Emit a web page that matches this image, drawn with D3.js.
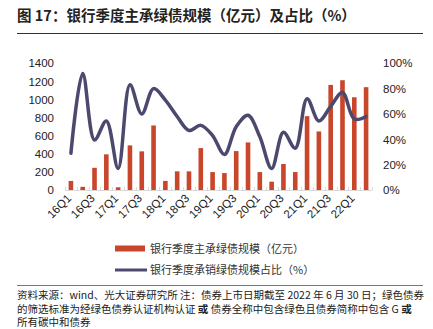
<!DOCTYPE html>
<html>
<head>
<meta charset="utf-8">
<script src="https://cdn.jsdelivr.net/npm/d3@7"></script>
<style>
  body { margin: 0; background: #fff; }
  svg { display: block; font-family: "Liberation Sans", Arial, "Noto Sans CJK SC", sans-serif; }
  .cjk { font-family: "Noto Sans CJK SC", sans-serif; }
</style>
</head>
<body>
<svg id="chart" width="433" height="329"></svg>
<script>
// Bank green bond underwriting by quarter

var quarters = ["16Q1","16Q2","16Q3","16Q4","17Q1","17Q2","17Q3","17Q4","18Q1","18Q2","18Q3","18Q4",
	"19Q1","19Q2","19Q3","19Q4","20Q1","20Q2","20Q3","20Q4","21Q1","21Q2","21Q3","21Q4","22Q1","22Q2"];
var scaleValues = [100, 35, 245, 394, 30, 493, 427, 713, 100, 206, 206, 463,
	198, 187, 430, 526, 198, 92, 287, 198, 816, 647, 1161, 1213, 1025, 1136];
var shareValues = [29, 92, 39.5, 54.5, 17, 83, 60, 80, 71, 58, 47, 51,
	43, 28, 50, 59, 42, 17, 45.5, 33, 72, 54.5, 66, 77, 56, 58];
var leftTicks = [0, 200, 400, 600, 800, 1000, 1200, 1400];
var rightTicks = [0, 20, 40, 60, 80, 100];

var barColor = "#c9462b";
var lineColor = "#4b4a6e";
var textColor = "#222";

var svg = d3.select("#chart");
var plotLeft = 65, plotRight = 372, plotTop = 63.3, plotBottom = 190;

// Title and rule
svg.append("text")
	.attr("class", "cjk")
	.attr("x", 17)
	.attr("y", 21)
	.attr("font-size", 14.5)
	.attr("font-weight", "bold")
	.attr("fill", textColor)
	.text("图 17：银行季度主承绿债规模（亿元）及占比（%）");
svg.append("line")
	.attr("x1", 17).attr("x2", 423)
	.attr("y1", 33.5).attr("y2", 33.5)
	.attr("stroke", "#333").attr("stroke-width", 1);

// Scales
var x = d3.scaleBand()
	.domain(quarters)
	.range([plotLeft, plotRight])
	.padding(0);
var yLeft = d3.scaleLinear().domain([0, 1400]).range([plotBottom, plotTop]);
var yRight = d3.scaleLinear().domain([0, 100]).range([plotBottom, plotTop]);

// Left axis
var leftAxis = d3.axisLeft(yLeft)
	.tickValues(leftTicks)
	.tickSize(0)
	.tickPadding(0)
	.tickFormat(d3.format("d"));
var gl = svg.append("g")
	.attr("transform", "translate(54,0)")
	.call(leftAxis);
gl.select(".domain").remove();
gl.selectAll("text").attr("font-size", 11.5).attr("fill", textColor)
	.attr("font-family", "Liberation Sans, Arial, sans-serif");

// Right axis
var rightAxis = d3.axisRight(yRight)
	.tickValues(rightTicks)
	.tickSize(0)
	.tickPadding(0)
	.tickFormat(function(d) { return d + "%"; });
var gr = svg.append("g")
	.attr("transform", "translate(383,0)")
	.call(rightAxis);
gr.select(".domain").remove();
gr.selectAll("text").attr("font-size", 11.5).attr("fill", textColor)
	.attr("font-family", "Liberation Sans, Arial, sans-serif");

// Baseline with small ticks between categories
svg.append("line")
	.attr("x1", plotLeft).attr("x2", plotRight)
	.attr("y1", plotBottom + 0.5).attr("y2", plotBottom + 0.5)
	.attr("stroke", "#d9d9d9").attr("stroke-width", 1);
var boundaries = quarters.map(function(d) { return x(d); }).concat([plotRight]);
svg.append("g").selectAll("line")
	.data(boundaries)
	.enter()
	.append("line")
	.attr("x1", function(d) { return Math.round(d) + 0.5; })
	.attr("x2", function(d) { return Math.round(d) + 0.5; })
	.attr("y1", plotBottom - 3)
	.attr("y2", plotBottom)
	.attr("stroke", "#d9d9d9");

// Bars
var barWidth = 4.6;
svg.append("g").selectAll("rect")
	.data(scaleValues)
	.enter()
	.append("rect")
	.attr("x", function(d, i) { return x(quarters[i]) + x.bandwidth() / 2 - barWidth / 2; })
	.attr("y", function(d) { return yLeft(d); })
	.attr("width", barWidth)
	.attr("height", function(d) { return plotBottom - yLeft(d); })
	.attr("fill", barColor);

// Share line
var lineGen = d3.line()
	.x(function(d, i) { return x(quarters[i]) + x.bandwidth() / 2; })
	.y(function(d) { return yRight(d); })
	.curve(d3.curveCatmullRom.alpha(0.5));
svg.append("path")
	.datum(shareValues)
	.attr("d", lineGen)
	.attr("fill", "none")
	.attr("stroke", lineColor)
	.attr("stroke-width", 3.5)
	.attr("stroke-linejoin", "round")
	.attr("stroke-linecap", "round");

// X labels, every other quarter
svg.append("g").selectAll("text")
	.data(quarters.filter(function(d, i) { return i % 2 === 0; }))
	.enter()
	.append("text")
	.attr("transform", function(d) {
		return "translate(" + (x(d) + x.bandwidth() / 2 + 1) + "," + (plotBottom + 9) + ") rotate(-45)";
	})
	.attr("text-anchor", "end")
	.attr("font-size", 11.5)
	.attr("fill", textColor)
	.text(function(d) { return d; });

// Legend
var legend = svg.append("g");
legend.append("rect")
	.attr("x", 115).attr("y", 245.5)
	.attr("width", 30).attr("height", 6)
	.attr("fill", barColor);
legend.append("text")
	.attr("class", "cjk")
	.attr("x", 150).attr("y", 252.5)
	.attr("font-size", 11)
	.attr("fill", "#333")
	.text("银行季度主承绿债规模（亿元）");
legend.append("line")
	.attr("x1", 115).attr("x2", 147)
	.attr("y1", 270).attr("y2", 270)
	.attr("stroke", lineColor).attr("stroke-width", 3);
legend.append("text")
	.attr("class", "cjk")
	.attr("x", 150).attr("y", 274)
	.attr("font-size", 11)
	.attr("fill", "#333")
	.text("银行季度承销绿债规模占比（%）");

// Footnote
svg.append("line")
	.attr("x1", 17).attr("x2", 423)
	.attr("y1", 285.5).attr("y2", 285.5)
	.attr("stroke", "#777").attr("stroke-width", 1);
var noteLines = [
	[["资料来源：wind、光大证券研究所  注：债券上市日期截至 2022 年 6 月 30 日；绿色债券", false]],
	[["的筛选标准为经绿色债券认证机构认证 ", false], ["或", true], [" 债券全称中包含绿色且债券简称中包含 G ", false], ["或", true]],
	[["所有碳中和债券", false]]
];
noteLines.forEach(function(parts, i) {
	var t = svg.append("text")
		.attr("class", "cjk")
		.attr("x", 17)
		.attr("y", 299 + i * 13.5)
		.attr("font-size", 10.5)
		.attr("fill", "#222");
	parts.forEach(function(p) {
		t.append("tspan")
			.attr("font-weight", p[1] ? "bold" : "normal")
			.text(p[0]);
	});
});
</script>
</body>
</html>
